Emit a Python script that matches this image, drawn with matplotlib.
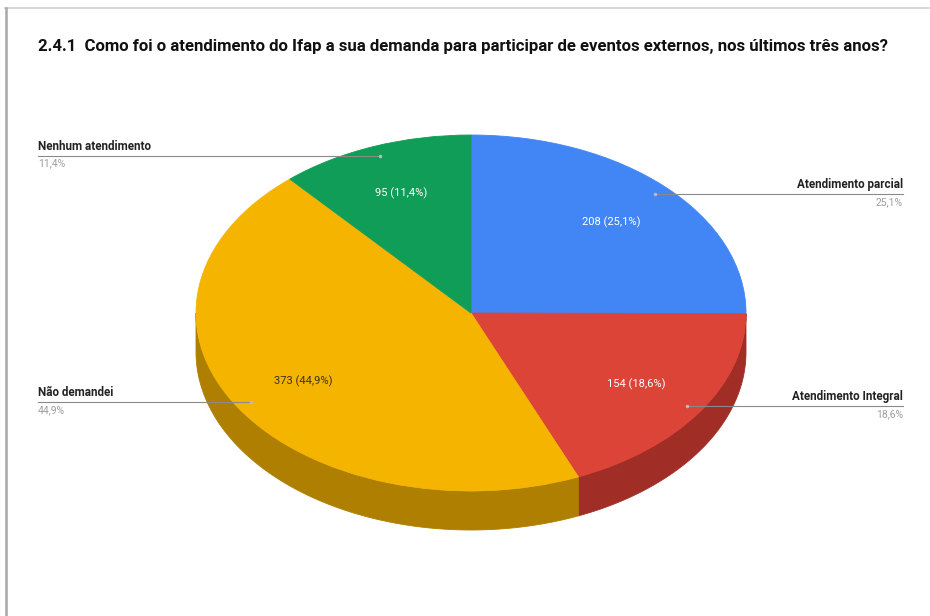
import matplotlib.pyplot as plt
import numpy as np
from matplotlib.lines import Line2D

categorias = ["Atendimento parcial", "Atendimento Integral", "Não demandei", "Nenhum atendimento"]
respostas = [208, 154, 373, 95]
cores = ["#4285f4", "#db4437", "#f4b400", "#0f9d58"]
cores_lado = ["#2e5daa", "#a02d26", "#ae7f00", "#0a6e3e"]
cor_rotulo = ["white", "white", "#3a3220", "white"]
titulo = "2.4.1  Como foi o atendimento do Ifap a sua demanda para participar de eventos externos, nos últimos três anos?"

W, H = 930, 616
cx, cy, rx, ry = 471, 313, 275, 178   # centro e raios da elipse (px)
prof = 39 / ry                        # espessura do disco em unidades de y

plt.rcParams["font.family"] = ["Roboto", "DejaVu Sans"]
fig = plt.figure(figsize=(W / 100, H / 100), dpi=100)
fig.patch.set_facecolor("white")

# eixo cobrindo a figura, com a elipse de raio 1 achatada em y
ax = fig.add_axes([0, 0, 1, 1])
total = sum(respostas)


def fmt(pct):
    n = int(round(pct * total / 100))
    return f"{n} ({pct:.1f}%)".replace(".", ",")


wedges, textos, autotextos = ax.pie(
    respostas, colors=cores, startangle=90, counterclock=False,
    autopct=fmt, pctdistance=0.72,
    wedgeprops=dict(linewidth=0.6, zorder=2),
    textprops=dict(fontsize=8),
)
for w, c in zip(wedges, cores):
    w.set_edgecolor(c)
for t, c in zip(autotextos, cor_rotulo):
    t.set_color(c)
    t.set_zorder(3)

ax.set_aspect("auto")
ax.set_xlim(-cx / rx, (W - cx) / rx)
ax.set_ylim(-(H - cy) / ry, cy / ry)
ax.axis("off")

# lateral do disco (metade da frente)
fracs = np.array(respostas) / total
ang = np.concatenate([[0], np.cumsum(fracs) * 360])
for i in range(len(respostas)):
    a, b = max(ang[i], 90), min(ang[i + 1], 270)
    if b - a < 1:
        continue
    t = np.radians(np.linspace(a, b, 120))
    x, y = np.sin(t), np.cos(t)
    ax.fill(np.r_[x, x[::-1]], np.r_[y, y[::-1] - prof],
            color=cores_lado[i], lw=0.6, ec=cores_lado[i], zorder=1)

# rótulos externos com linhas-guia
to_px = ax.transData
for i, nome in enumerate(categorias):
    meio = np.radians((ang[i] + ang[i + 1]) / 2)
    px, py = to_px.transform((0.945 * np.sin(meio), 0.945 * np.cos(meio)))
    pct = f"{fracs[i] * 100:.1f}%".replace(".", ",")
    if px > cx:
        xl, ha = 903, "right"
    else:
        xl, ha = 38, "left"
    fig.add_artist(Line2D([px / W, xl / W], [py / H, py / H], color="#8a8a8a", lw=0.8))
    fig.add_artist(Line2D([px / W], [py / H], marker="o", ms=1.5, color="#bbbbbb", lw=0))
    fig.text(xl / W, (py + 3) / H, nome, ha=ha, va="bottom", fontsize=8.4,
             fontweight="bold", color="#222222")
    fig.text(xl / W, (py - 3) / H, pct, ha=ha, va="top", fontsize=7.5, color="#9e9e9e")

fig.text(38 / W, 1 - 47 / H, titulo, ha="left", va="center", fontsize=12.05,
         fontweight="bold", color="#111111")

# moldura
fig.add_artist(Line2D([5 / W, 929 / W], [1 - 8 / H, 1 - 8 / H], color="#cfcfcf", lw=1.2))
fig.add_artist(Line2D([6 / W, 6 / W], [0, 1 - 8 / H], color="#a8a8a8", lw=1.8))

fig.savefig("out.png", dpi=100, facecolor="white")
